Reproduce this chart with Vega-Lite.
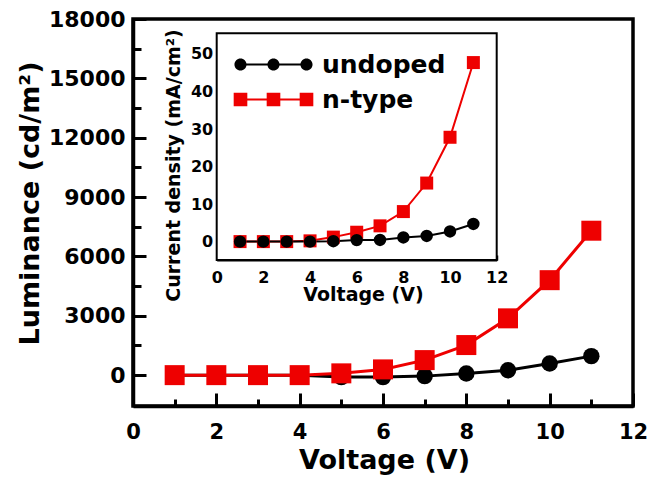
{
  "$schema": "https://vega.github.io/schema/vega-lite/v6.json",
  "width": 500,
  "height": 387,
  "autosize": {"type": "none"},
  "padding": {"left": 133, "top": 19, "right": 14, "bottom": 75},
  "background": "white",
  "config": {
    "view": {"stroke": "black", "strokeWidth": 3.5},
    "font": "DejaVu Sans",
    "axis": {"grid": false, "labelColor": "black", "titleColor": "black", "domainColor": "black", "tickColor": "black", "labelFont": "DejaVu Sans", "titleFont": "DejaVu Sans", "labelFontWeight": "bold", "titleFontWeight": "bold", "labelFlush": false, "labelOverlap": false, "zindex": 1},
    "legend": {"orient": "none", "title": null, "labelFontSize": 25, "labelFont": "DejaVu Sans", "labelFontWeight": "bold", "labelColor": "black", "symbolSize": 484, "symbolStrokeWidth": 2, "symbolOpacity": 1, "labelOffset": 36, "padding": 0}
  },
  "datasets": {
    "main": [
      {"V": 1, "L": 0, "series": "undoped"},
      {"V": 2, "L": 0, "series": "undoped"},
      {"V": 3, "L": 0, "series": "undoped"},
      {"V": 4, "L": 0, "series": "undoped"},
      {"V": 5, "L": -100, "series": "undoped"},
      {"V": 6, "L": -100, "series": "undoped"},
      {"V": 7, "L": -50, "series": "undoped"},
      {"V": 8, "L": 80, "series": "undoped"},
      {"V": 9, "L": 250, "series": "undoped"},
      {"V": 10, "L": 590, "series": "undoped"},
      {"V": 11, "L": 960, "series": "undoped"},
      {"V": 1, "L": 0, "series": "n-type"},
      {"V": 2, "L": 0, "series": "n-type"},
      {"V": 3, "L": 0, "series": "n-type"},
      {"V": 4, "L": 0, "series": "n-type"},
      {"V": 5, "L": 90, "series": "n-type"},
      {"V": 6, "L": 290, "series": "n-type"},
      {"V": 7, "L": 760, "series": "n-type"},
      {"V": 8, "L": 1520, "series": "n-type"},
      {"V": 9, "L": 2870, "series": "n-type"},
      {"V": 10, "L": 4800, "series": "n-type"},
      {"V": 11, "L": 7300, "series": "n-type"}
    ],
    "inset": [
      {"V": 1, "J": 0, "series": "n-type"},
      {"V": 2, "J": 0, "series": "n-type"},
      {"V": 3, "J": 0, "series": "n-type"},
      {"V": 4, "J": 0.2, "series": "n-type"},
      {"V": 5, "J": 1.2, "series": "n-type"},
      {"V": 6, "J": 2.5, "series": "n-type"},
      {"V": 7, "J": 4.2, "series": "n-type"},
      {"V": 8, "J": 8.0, "series": "n-type"},
      {"V": 9, "J": 15.6, "series": "n-type"},
      {"V": 10, "J": 27.8, "series": "n-type"},
      {"V": 11, "J": 47.7, "series": "n-type"},
      {"V": 1, "J": 0, "series": "undoped"},
      {"V": 2, "J": 0, "series": "undoped"},
      {"V": 3, "J": 0, "series": "undoped"},
      {"V": 4, "J": 0, "series": "undoped"},
      {"V": 5, "J": 0.1, "series": "undoped"},
      {"V": 6, "J": 0.4, "series": "undoped"},
      {"V": 7, "J": 0.45, "series": "undoped"},
      {"V": 8, "J": 1.1, "series": "undoped"},
      {"V": 9, "J": 1.5, "series": "undoped"},
      {"V": 10, "J": 2.7, "series": "undoped"},
      {"V": 11, "J": 4.7, "series": "undoped"}
    ]
  },
  "layer": [
    {
      "data": {"name": "main"},
      "encoding": {
        "x": {"field": "V", "type": "quantitative", "scale": {"domain": [0, 12], "nice": false, "zero": false},
          "axis": {"orient": "bottom", "values": [0, 1, 2, 3, 4, 5, 6, 7, 8, 9, 10, 11, 12], "format": "d",
            "labelExpr": "datum.value % 2 === 0 ? datum.label : ''",
            "labelFontSize": 21, "labelPadding": 28, "labelBaseline": "top",
            "tickSize": {"condition": {"test": "datum.value % 2 !== 0", "value": -7}, "value": -13},
            "tickWidth": 3, "domainWidth": 3.5,
            "title": "Voltage (V)", "titleFontSize": 27, "titleX": 251, "titleY": 62, "titleBaseline": "alphabetic", "titleAlign": "center"}},
        "y": {"field": "L", "type": "quantitative", "scale": {"domain": [-1560, 18000], "nice": false, "zero": false},
          "axis": {"orient": "left", "values": [0, 1500, 3000, 4500, 6000, 7500, 9000, 10500, 12000, 13500, 15000, 16500, 18000], "format": "d",
            "labelExpr": "datum.value % 3000 === 0 ? datum.label : ''",
            "labelFontSize": 22, "labelPadding": 21, "labelBaseline": "middle",
            "tickSize": {"condition": {"test": "datum.value % 3000 !== 0", "value": -8}, "value": -13},
            "tickWidth": 3, "domainWidth": 3.5,
            "title": "Luminance (cd/m²)", "titleFontSize": 27, "titleAngle": -90, "titleX": -95, "titleY": 184, "titleBaseline": "alphabetic", "titleAlign": "center"}},
        "color": {"field": "series", "type": "nominal", "scale": {"domain": ["undoped", "n-type"], "range": ["#000000", "#ee0000"]}, "legend": null}
      },
      "layer": [
        {"mark": {"type": "line", "strokeWidth": 3}},
        {"mark": {"type": "point", "filled": true, "opacity": 1},
          "encoding": {
            "shape": {"field": "series", "type": "nominal", "scale": {"domain": ["undoped", "n-type"], "range": ["circle", "square"]}, "legend": null},
            "size": {"field": "series", "type": "nominal", "scale": {"domain": ["undoped", "n-type"], "range": [270, 400]}, "legend": null}
          }}
      ]
    },
    {
      "layer": [
        {
          "data": {"values": [{"box": "inset"}]},
          "mark": {"type": "rect", "fill": "white", "stroke": "black", "strokeWidth": 2},
          "encoding": {
            "x": {"datum": 0, "type": "quantitative", "scale": {"domain": [0, 12], "range": [83.7, 363.7], "nice": false, "zero": false},
              "axis": {"orient": "bottom", "offset": -146, "values": [0, 1, 2, 3, 4, 5, 6, 7, 8, 9, 10, 11, 12], "format": "d",
                "labelExpr": "datum.value % 2 === 0 ? datum.label : ''",
                "labelFontSize": 16, "labelPadding": 14, "labelBaseline": "top",
                "tickSize": {"condition": {"test": "datum.value % 2 !== 0", "value": -3}, "value": -5},
                "tickWidth": 1.5, "domainWidth": 2,
                "title": "Voltage (V)", "titleFontSize": 19, "titleX": 230, "titleY": 40, "titleBaseline": "alphabetic", "titleAlign": "center"}},
            "x2": {"datum": 12},
            "y": {"datum": -4.9, "type": "quantitative", "scale": {"domain": [-4.9, 55.5], "range": [241, 14.3], "nice": false, "zero": false},
              "axis": {"orient": "left", "offset": -83.7, "values": [0, 5, 10, 15, 20, 25, 30, 35, 40, 45, 50], "format": "d",
                "labelExpr": "datum.value % 10 === 0 ? datum.label : ''",
                "labelFontSize": 16, "labelPadding": 9, "labelBaseline": "middle",
                "tickSize": {"condition": {"test": "datum.value % 10 !== 0", "value": -3}, "value": -5},
                "tickWidth": 1.5, "domainWidth": 2,
                "title": "Current density (mA/cm²)", "titleFontSize": 19, "titleAngle": -90, "titleX": -37.7, "titleY": 146, "titleBaseline": "alphabetic", "titleAlign": "center"}},
            "y2": {"datum": 55.5}
          }
        },
        {
          "data": {"name": "inset"},
          "mark": {"type": "line", "strokeWidth": 2},
          "encoding": {
            "x": {"field": "V", "type": "quantitative"},
            "y": {"field": "J", "type": "quantitative"},
            "color": {"field": "series", "type": "nominal", "scale": {"domain": ["undoped", "n-type"], "range": ["#000000", "#ee0000"]}, "legend": null},
            "detail": {"field": "series"}
          }
        },
        {
          "data": {"name": "inset"},
          "mark": {"type": "point", "filled": true, "opacity": 1},
          "encoding": {
            "x": {"field": "V", "type": "quantitative"},
            "y": {"field": "J", "type": "quantitative"},
            "color": {"field": "series", "type": "nominal", "scale": {"domain": ["undoped", "n-type"], "range": ["#000000", "#ee0000"]}, "legend": null},
            "shape": {"field": "series", "type": "nominal", "scale": {"domain": ["undoped", "n-type"], "range": ["circle", "square"]}, "legend": null},
            "size": {"field": "series", "type": "nominal", "scale": {"domain": ["undoped", "n-type"], "range": [154, 169]}, "legend": null}
          }
        },
        {
          "data": {"name": "inset"},
          "transform": [{"filter": "false"}],
          "mark": {"type": "point", "filled": true, "opacity": 1, "color": "#000000", "fill": "#000000", "stroke": "#000000", "strokeWidth": 2},
          "encoding": {
            "x": {"field": "V", "type": "quantitative"},
            "y": {"field": "J", "type": "quantitative"},
            "shape": {"field": "series", "type": "nominal", "scale": {"domain": ["undoped"], "range": [
                "M-3,-0.09L3,-0.09L3,0.09L-3,0.09ZM-3.55,0A0.55,0.55,0,1,1,-2.45,0A0.55,0.55,0,1,1,-3.55,0ZM-0.55,0A0.55,0.55,0,1,1,0.55,0A0.55,0.55,0,1,1,-0.55,0ZM2.45,0A0.55,0.55,0,1,1,3.55,0A0.55,0.55,0,1,1,2.45,0Z"]},
              "legend": {"legendX": 128, "legendY": 33, "symbolFillColor": "#000000", "symbolStrokeColor": "#000000"}}
          }
        },
        {
          "data": {"name": "inset"},
          "transform": [{"filter": "false"}],
          "mark": {"type": "point", "filled": true, "opacity": 1, "color": "#ee0000", "fill": "#ee0000", "stroke": "#ee0000", "strokeWidth": 2},
          "encoding": {
            "x": {"field": "V", "type": "quantitative"},
            "y": {"field": "J", "type": "quantitative"},
            "shape": {"field": "series", "type": "nominal", "scale": {"domain": ["n-type"], "range": [
                "M-3,-0.09L3,-0.09L3,0.09L-3,0.09ZM-3.62,-0.62L-2.38,-0.62L-2.38,0.62L-3.62,0.62ZM-0.62,-0.62L0.62,-0.62L0.62,0.62L-0.62,0.62ZM2.38,-0.62L3.62,-0.62L3.62,0.62L2.38,0.62Z"]},
              "legend": {"legendX": 128, "legendY": 68, "symbolFillColor": "#ee0000", "symbolStrokeColor": "#ee0000"}}
          }
        }
      ],
      "resolve": {"scale": {"shape": "independent", "size": "independent"}}
    }
  ],
  "resolve": {"scale": {"x": "independent", "y": "independent", "color": "independent", "shape": "independent", "size": "independent"}}
}
